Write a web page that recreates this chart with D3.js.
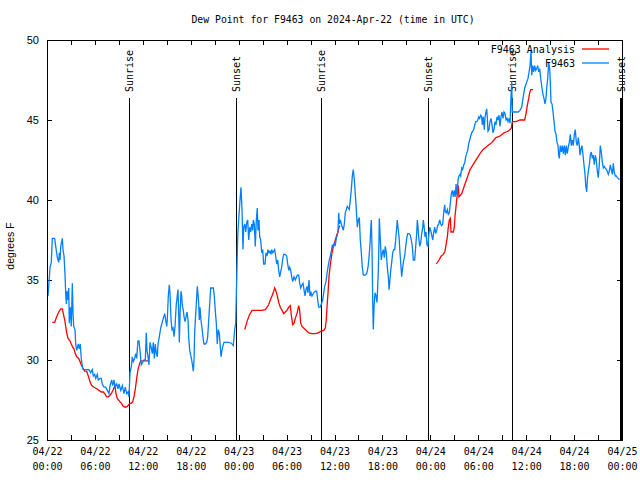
<!DOCTYPE html>
<html><head><meta charset="utf-8">
<script src="https://cdn.jsdelivr.net/npm/d3@7"></script>
<style>body{margin:0;background:#fff}svg{display:block}</style>
</head><body>
<script>
// ---------- DATA (hours after 2024-04-22 00:00 UTC, degrees F) ----------
const titleText = "Dew Point for F9463 on 2024-Apr-22 (time in UTC)";
const yTicks = [25, 30, 35, 40, 45, 50];
const majorTickHours = [0, 6, 12, 18, 24, 30, 36, 42, 48, 54, 60, 66, 72];
const minorTickHours = [3, 9, 15, 21, 27, 33, 39, 45, 51, 57, 63, 69];
const sunriseHours = [10.3, 34.33, 58.25];
const sunsetHours = [23.7, 47.75, 71.88];

const obsDay1 = [[0.13,34.0],[0.38,35.8],[0.54,36.1],[0.66,37.6],[0.96,37.6],[1.09,37.1],[1.21,36.7],[1.29,36.4],[1.47,36.1],[1.54,36.7],[1.63,36.25],[1.72,37.1],[1.84,37.4],[1.92,37.6],[2.00,36.9],[2.13,36.5],[2.25,35.4],[2.34,34.2],[2.42,33.5],[2.50,34.3],[2.63,33.75],[2.72,34.5],[2.79,32.3],[2.92,33.3],[3.04,32.1],[3.17,34.8],[3.26,32.9],[3.34,32.1],[3.51,31.9],[3.59,31.0],[3.72,30.6],[3.92,31.0],[4.04,30.7],[4.17,31.0],[4.29,30.1],[4.42,29.6],[4.55,29.4],[5.05,29.4],[5.26,29.4],[5.47,29.2],[5.67,29.4],[5.80,29.0],[5.97,29.1],[6.10,28.85],[6.30,29.1],[6.42,28.75],[6.64,28.85],[6.80,28.85],[6.92,28.5],[7.14,28.3],[7.35,28.3],[7.55,28.1],[7.76,27.9],[7.89,28.4],[8.10,28.75],[8.23,28.4],[8.39,28.75],[8.51,28.3],[8.73,28.5],[8.89,28.2],[9.02,28.5],[9.23,28.1],[9.43,28.4],[9.64,27.9],[9.80,28.3],[9.98,27.9],[10.14,28.0],[10.27,27.7],[10.39,29.2],[10.56,29.6],[10.68,30.2],[10.81,29.9],[10.98,30.1],[11.11,30.4],[11.23,30.1],[11.39,31.2],[11.52,31.2],[11.68,30.4],[11.81,29.7],[12.02,29.9],[12.15,30.0],[12.31,30.0],[12.43,31.7],[12.52,30.6],[12.65,30.2],[12.77,29.7],[12.90,31.1],[13.06,30.75],[13.19,30.4],[13.31,31.1],[13.44,30.1],[13.56,31.0],[13.69,30.4],[13.81,30.2],[13.90,31.0],[14.06,31.45],[14.24,32.0],[14.40,32.3],[14.56,32.6],[14.74,32.9],[14.86,32.5],[14.99,32.1],[15.06,32.5],[15.19,34.0],[15.31,34.7],[15.40,34.2],[15.53,32.5],[15.65,31.9],[15.78,32.0],[15.90,31.45],[16.03,32.1],[16.19,33.5],[16.28,33.85],[16.40,34.4],[16.49,32.9],[16.57,31.1],[16.69,33.3],[16.78,34.3],[16.87,34.0],[16.94,33.4],[17.07,33.1],[17.16,32.7],[17.28,32.4],[17.41,32.7],[17.53,33.0],[17.66,32.5],[17.74,31.45],[17.87,30.6],[17.99,30.3],[18.12,30.0],[18.24,29.6],[18.32,29.3],[18.41,30.0],[18.49,31.7],[18.62,32.9],[18.75,34.0],[18.82,34.6],[18.91,34.1],[19.00,33.5],[19.07,32.5],[19.16,33.3],[19.28,32.5],[19.41,32.0],[19.53,31.45],[19.66,31.0],[19.82,31.0],[20.00,31.1],[20.12,31.45],[20.25,32.5],[20.37,33.5],[20.50,34.5],[20.66,34.5],[20.82,34.5],[20.95,34.0],[21.07,33.1],[21.20,32.3],[21.32,31.0],[21.45,31.9],[21.57,31.7],[21.66,31.1],[21.79,30.2],[21.91,30.6],[22.04,30.9],[22.16,31.1],[22.45,31.1],[22.75,31.1],[23.08,31.05],[23.33,30.9],[23.50,31.9],[23.63,32.3],[23.75,35.0],[23.88,37.7]];

const obsDay2 = [[24.00,38.75],[24.17,40.0],[24.29,40.8],[24.42,39.4],[24.54,36.9],[24.63,38.3],[24.76,38.5],[24.88,38.0],[25.01,38.6],[25.13,38.75],[25.26,37.5],[25.38,38.3],[25.51,38.0],[25.63,38.5],[25.76,38.1],[25.83,38.75],[25.96,38.5],[26.08,37.1],[26.21,38.75],[26.33,39.5],[26.42,38.1],[26.55,38.75],[26.63,37.7],[26.76,37.5],[26.88,36.7],[27.01,36.9],[27.13,36.0],[27.30,36.0],[27.42,36.7],[27.55,36.5],[27.67,36.9],[27.80,36.7],[27.92,36.8],[28.05,36.6],[28.14,36.9],[28.26,36.7],[28.39,36.8],[28.51,36.9],[28.64,36.5],[28.76,36.0],[28.89,36.25],[29.01,35.6],[29.14,35.2],[29.26,35.5],[29.39,35.8],[29.51,36.3],[29.64,36.6],[29.84,36.6],[30.01,36.5],[30.14,36.0],[30.27,35.6],[30.39,35.8],[30.52,35.6],[30.64,35.2],[30.77,34.9],[30.93,35.2],[31.09,35.0],[31.34,35.3],[31.52,35.3],[31.64,34.8],[31.77,34.5],[31.93,34.7],[32.06,34.8],[32.18,34.4],[32.31,34.0],[32.43,34.4],[32.56,34.6],[32.68,34.2],[32.81,35.0],[32.93,34.0],[33.06,34.2],[33.18,34.0],[33.40,34.2],[33.60,34.3],[33.77,34.3],[33.90,33.75],[34.02,33.3],[34.22,33.3],[34.35,33.5],[34.52,33.75],[34.65,34.2],[34.77,34.6],[34.94,34.9],[35.06,35.4],[35.19,35.8],[35.35,36.25],[35.48,36.5],[35.60,36.8],[35.73,37.2],[35.85,37.0],[35.98,37.3],[36.10,37.2],[36.23,37.6],[36.35,37.8],[36.44,38.1],[36.53,39.2],[36.60,38.5],[36.73,38.75],[36.85,38.5],[36.98,38.3],[37.10,38.1],[37.23,38.5],[37.35,39.2],[37.48,39.4],[37.60,39.6],[37.73,39.5],[37.85,39.4],[37.98,40.0],[38.10,40.6],[38.23,41.5],[38.35,41.9],[38.48,41.25],[38.60,40.4],[38.73,39.4],[38.86,38.3],[38.98,38.75],[39.11,38.9],[39.23,37.5],[39.36,36.7],[39.48,35.8],[39.61,35.3],[39.86,35.3],[40.03,35.4],[40.20,35.8],[40.32,36.4],[40.45,37.3],[40.53,38.1],[40.61,38.75],[40.70,36.9],[40.79,33.5],[40.86,31.9],[40.95,33.3],[41.07,34.2],[41.20,34.0],[41.32,33.6],[41.41,34.6],[41.49,35.6],[41.57,37.5],[41.61,38.85],[41.74,37.5],[41.86,36.25],[41.99,36.7],[42.11,36.9],[42.24,36.4],[42.36,37.1],[42.49,36.7],[42.61,35.8],[42.74,35.2],[42.83,34.4],[42.91,34.8],[43.04,35.6],[43.16,36.1],[43.29,36.7],[43.41,36.9],[43.54,36.9],[43.66,37.5],[43.79,38.3],[43.86,38.75],[43.95,38.3],[44.08,37.7],[44.20,36.7],[44.33,35.8],[44.41,35.2],[44.54,35.8],[44.67,36.25],[44.79,36.5],[44.92,37.1],[45.04,37.6],[45.17,37.9],[45.33,37.9],[45.49,37.8],[45.62,37.5],[45.74,37.1],[45.87,36.25],[46.04,36.25],[46.17,37.1],[46.29,37.9],[46.37,38.75],[46.46,38.3],[46.54,37.7],[46.67,37.1],[46.79,37.3],[46.92,37.9],[47.05,38.3],[47.12,38.75],[47.21,38.4],[47.33,37.7],[47.46,38.0],[47.58,37.2],[47.71,37.1],[47.79,37.7],[47.92,38.3]];

const obsDay3 = [[48.05,38.1],[48.17,37.8],[48.30,37.5],[48.42,38.0],[48.55,38.3],[48.67,37.9],[48.80,38.1],[48.92,38.4],[49.05,38.5],[49.17,38.75],[49.30,38.5],[49.42,38.4],[49.55,38.5],[49.67,39.2],[49.80,39.7],[49.87,39.3],[50.00,39.2],[50.13,39.4],[50.25,39.1],[50.38,39.2],[50.50,39.8],[50.63,40.4],[50.75,40.6],[50.88,40.2],[51.00,40.6],[51.13,40.2],[51.22,41.0],[51.34,40.3],[51.47,41.25],[51.59,41.5],[51.72,41.6],[51.80,41.5],[51.93,42.0],[52.05,41.9],[52.18,42.2],[52.30,42.3],[52.43,42.7],[52.55,42.9],[52.68,43.1],[52.80,43.5],[52.93,43.75],[53.06,44.0],[53.18,44.2],[53.31,44.3],[53.43,44.4],[53.56,44.7],[53.68,44.9],[53.81,44.9],[53.93,45.0],[54.06,45.2],[54.18,45.1],[54.31,45.3],[54.43,45.2],[54.51,44.7],[54.63,45.2],[54.76,44.4],[54.85,45.2],[54.97,45.5],[55.06,45.7],[55.13,45.2],[55.22,44.3],[55.35,44.4],[55.47,44.9],[55.60,45.1],[55.72,44.7],[55.85,44.2],[55.97,44.4],[56.10,44.9],[56.22,44.7],[56.35,45.2],[56.47,45.0],[56.60,45.3],[56.72,44.6],[56.85,45.2],[56.97,45.5],[57.10,45.1],[57.22,45.5],[57.35,45.4],[57.48,45.0],[57.60,45.1],[57.73,44.9],[57.85,45.1],[57.98,44.8],[58.10,46.45],[58.19,47.4],[58.26,45.5],[58.69,45.5],[58.98,45.5],[59.23,45.6],[59.44,45.8],[59.60,46.35],[59.82,47.0],[60.02,47.3],[60.23,47.6],[60.36,48.0],[60.48,48.4],[60.61,49.3],[60.69,47.8],[60.82,48.4],[60.94,48.0],[61.07,48.4],[61.19,48.1],[61.32,48.2],[61.44,48.4],[61.57,48.0],[61.70,48.2],[61.82,47.6],[61.98,47.0],[62.11,46.6],[62.23,46.35],[62.36,46.0],[62.48,46.35],[62.57,47.0],[62.70,47.6],[62.82,48.6],[62.95,48.2],[63.02,47.4],[63.11,46.1],[63.24,46.0],[63.36,45.5],[63.49,44.9],[63.61,44.3],[63.74,44.1],[63.86,43.6],[63.99,43.4],[64.07,42.8],[64.15,42.6],[64.27,43.4],[64.40,43.0],[64.52,43.4],[64.65,42.9],[64.77,43.4],[64.90,42.8],[65.02,43.4],[65.15,42.9],[65.27,43.3],[65.40,43.6],[65.53,44.1],[65.65,43.4],[65.78,43.75],[65.90,43.4],[66.03,44.1],[66.15,44.4],[66.28,43.6],[66.40,43.4],[66.53,43.9],[66.65,43.4],[66.74,42.8],[66.87,43.2],[66.99,43.4],[67.12,42.8],[67.24,42.2],[67.37,41.6],[67.46,40.9],[67.58,40.5],[67.66,41.25],[67.78,41.8],[67.91,42.2],[68.03,42.8],[68.16,43.0],[68.28,42.6],[68.41,42.8],[68.53,42.2],[68.66,42.8],[68.78,42.5],[68.91,41.8],[69.03,41.4],[69.16,42.2],[69.28,43.4],[69.41,43.0],[69.53,42.4],[69.66,42.0],[69.79,42.1],[69.91,42.0],[70.04,41.9],[70.16,41.8],[70.29,41.6],[70.41,41.8],[70.54,42.2],[70.66,41.9],[70.79,41.6],[70.91,42.3],[71.04,41.7],[71.17,41.5],[71.29,41.5],[71.42,41.4],[71.59,41.3],[71.72,41.3]];

const analysisPart1 = [[0.66,32.35],[0.96,32.35],[1.21,32.7],[1.47,33.0],[1.72,33.2],[1.92,33.2],[2.04,32.9],[2.22,32.5],[2.34,32.1],[2.47,31.7],[2.63,31.35],[2.88,31.2],[3.04,31.0],[3.22,30.8],[3.38,30.7],[3.54,30.4],[3.72,30.2],[3.97,30.1],[4.13,29.9],[4.29,29.7],[4.47,29.5],[4.72,29.3],[4.97,29.3],[5.17,29.0],[5.38,28.65],[5.60,28.4],[5.89,28.3],[6.22,28.2],[6.51,28.1],[6.80,28.0],[7.05,28.0],[7.23,27.9],[7.48,27.7],[7.68,27.7],[7.89,27.8],[8.10,27.95],[8.30,28.15],[8.51,28.4],[8.64,27.9],[8.80,27.6],[9.05,27.45],[9.30,27.3],[9.55,27.1],[9.80,27.05],[10.06,27.1],[10.31,27.25],[10.56,27.3],[10.73,27.4],[10.89,27.7],[11.06,28.2],[11.23,28.85],[11.39,29.4],[11.56,29.7],[11.73,29.95],[12.68,29.95]];

const analysisPart2 = [[24.76,31.9],[25.04,32.4],[25.33,32.8],[25.67,33.1],[26.30,33.1],[26.92,33.1],[27.34,33.15],[27.55,33.3],[27.76,33.45],[27.96,33.75],[28.17,34.0],[28.39,34.3],[28.51,34.5],[28.68,34.3],[28.84,34.0],[29.01,33.6],[29.21,33.3],[29.43,33.1],[29.64,32.9],[29.84,33.0],[30.05,33.1],[30.27,33.3],[30.47,33.4],[30.59,32.8],[30.77,32.2],[30.93,32.3],[31.09,32.6],[31.30,32.9],[31.52,33.4],[31.64,33.1],[31.77,32.3],[31.93,32.1],[32.14,32.0],[32.34,31.9],[32.56,31.8],[32.77,31.7],[33.18,31.65],[33.60,31.65],[33.93,31.7],[34.35,31.8],[34.65,31.85],[34.85,32.0],[34.97,32.5],[35.06,33.3],[35.19,34.2],[35.31,35.2],[35.44,35.8],[35.56,36.25],[35.69,36.7],[35.81,37.0],[35.94,37.2],[36.10,37.5],[36.28,37.8],[36.44,38.0],[36.56,38.3],[36.69,38.4]];

const analysisPart3 = [[48.75,36.0],[49.09,36.25],[49.37,36.5],[49.62,36.6],[49.84,36.8],[50.00,37.3],[50.13,37.7],[50.25,38.3],[50.38,38.75],[50.50,38.85],[50.59,38.0],[50.88,38.0],[51.00,38.3],[51.09,39.0],[51.22,39.6],[51.34,40.2],[51.50,40.9],[51.59,40.2],[51.93,40.4],[52.34,41.0],[52.97,41.9],[53.59,42.4],[54.22,42.9],[54.51,43.1],[54.72,43.2],[54.97,43.3],[55.22,43.4],[55.47,43.5],[55.72,43.6],[55.97,43.75],[56.22,43.9],[56.47,43.95],[56.72,44.0],[56.97,44.1],[57.22,44.2],[57.48,44.25],[57.73,44.3],[57.98,44.4],[58.14,44.5],[58.26,44.9],[58.73,44.9],[59.23,45.0],[59.82,45.0],[60.02,45.5],[60.14,45.9],[60.32,46.35],[60.44,46.7],[60.57,46.9],[60.86,46.9]];

// ---------- CHART ----------
const START = Date.UTC(2024, 3, 22);
const toDate = h => new Date(START + h * 3600000);
const W = 640, H = 480, L = 47, R = 622, T = 40, B = 440;
const MONO = "'DejaVu Sans Mono', 'Liberation Mono', monospace";
const SANS = "'Liberation Sans', Arial, sans-serif";
const RED = "#ff0000", BLUE = "#0080ff";

const svg = d3.select("body").append("svg").attr("width", W).attr("height", H)
  .style("background", "#fff");

const x = d3.scaleUtc().domain([toDate(0), toDate(72)]).range([L, R]);
const y = d3.scaleLinear().domain([25, 50]).range([B, T]);

// inward ticks on all four sides
function tickAxis(axis, tx, ty) {
  const g = svg.append("g").attr("transform", `translate(${tx},${ty})`).call(axis);
  g.select(".domain").remove();
  g.selectAll("line").attr("stroke", "#000").attr("shape-rendering", "crispEdges");
  g.selectAll("text").remove();
  return g;
}
const allXTicks = majorTickHours.concat(minorTickHours).map(toDate);
tickAxis(d3.axisTop(x).tickValues(allXTicks).tickSize(5), 0, B);
tickAxis(d3.axisBottom(x).tickValues(allXTicks).tickSize(5), 0, T);
tickAxis(d3.axisRight(y).tickValues(yTicks).tickSize(5), L, 0);
tickAxis(d3.axisLeft(y).tickValues(yTicks).tickSize(5), R, 0);

// x labels (two lines)
const fmtDay = d3.utcFormat("%m/%d"), fmtTime = d3.utcFormat("%H:%M");
const gxl = svg.append("g").attr("transform", `translate(0,${B})`)
  .call(d3.axisBottom(x).tickValues(majorTickHours.map(toDate)).tickSize(0).tickPadding(8));
gxl.select(".domain").remove();
gxl.selectAll(".tick text").each(function (d) {
  const t = d3.select(this);
  t.text(null).attr("font-family", MONO).attr("font-size", 10).attr("fill", "#000");
  t.append("tspan").attr("x", 0).text(fmtDay(d));
  t.append("tspan").attr("x", 0).attr("dy", 15).text(fmtTime(d));
});

// y labels
const gyl = svg.append("g").attr("transform", `translate(${L},0)`)
  .call(d3.axisLeft(y).tickValues(yTicks).tickSize(0).tickPadding(8).tickFormat(d3.format("d")));
gyl.select(".domain").remove();
gyl.selectAll(".tick text").attr("font-family", SANS).attr("font-size", 11).attr("fill", "#000");

// y axis title
svg.append("text").attr("transform", `translate(14,246) rotate(-90)`)
  .attr("text-anchor", "middle").attr("font-family", SANS).attr("font-size", 10.5)
  .text("degrees F");

// title
svg.append("text").attr("x", 333).attr("y", 23).attr("text-anchor", "middle")
  .attr("font-family", MONO).attr("font-size", 9.8).text(titleText);

// sunrise / sunset markers
const sunEvents = sunriseHours.map(h => ({h, label: "Sunrise"}))
  .concat(sunsetHours.map(h => ({h, label: "Sunset"})));
sunEvents.forEach(e => {
  const px = x(toDate(e.h));
  svg.append("line").attr("x1", px).attr("x2", px).attr("y1", 98).attr("y2", B)
    .attr("stroke", "#000").attr("stroke-width", 1.2).attr("shape-rendering", "crispEdges");
  svg.append("text").attr("transform", `translate(${px + 3.5},92) rotate(-90)`)
    .attr("font-family", MONO).attr("font-size", 10).text(e.label);
});

// data lines
const line = d3.line().x(d => x(toDate(d[0]))).y(d => y(d[1]));
const clip = svg.append("clipPath").attr("id", "plotclip").append("rect")
  .attr("x", L).attr("y", T).attr("width", R - L).attr("height", B - T);
const plot = svg.append("g").attr("clip-path", "url(#plotclip)");
[analysisPart1, analysisPart2, analysisPart3].forEach(seg => {
  plot.append("path").datum(seg).attr("d", line).attr("fill", "none")
    .attr("stroke", RED).attr("stroke-width", 1.3);
});
plot.append("path").datum(obsDay1.concat(obsDay2, obsDay3)).attr("d", line)
  .attr("fill", "none").attr("stroke", BLUE).attr("stroke-width", 1.3);

// border
svg.append("rect").attr("x", L).attr("y", T).attr("width", R - L).attr("height", B - T)
  .attr("fill", "none").attr("stroke", "#000").attr("stroke-width", 1)
  .attr("shape-rendering", "crispEdges");

// legend
const legend = [{label: "F9463 Analysis", color: RED, y: 49}, {label: "F9463", color: BLUE, y: 63}];
legend.forEach(l => {
  svg.append("text").attr("x", 575).attr("y", l.y + 3.5).attr("text-anchor", "end")
    .attr("font-family", MONO).attr("font-size", 10).text(l.label);
  svg.append("line").attr("x1", 582).attr("x2", 609).attr("y1", l.y).attr("y2", l.y)
    .attr("stroke", l.color).attr("stroke-width", 1.3);
});
</script>
</body></html>
